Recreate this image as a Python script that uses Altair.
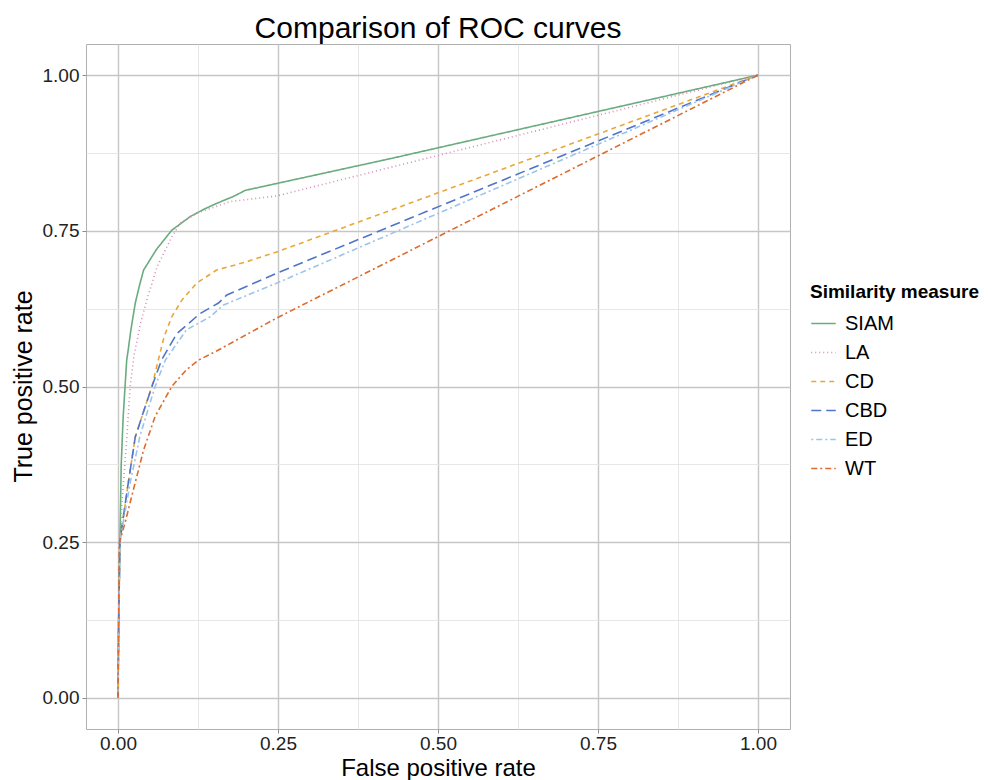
import altair as alt
import pandas as pd

measures = ["SIAM", "LA", "CD", "CBD", "ED", "WT"]
colors = ["#6aab7f", "#d48db5", "#e8a838", "#4f74c9", "#9cc4ea", "#dd6b2d"]
dashes = [[1, 0], [1, 3], [5, 4], [10, 5], [2, 3, 6, 3], [6, 3, 2, 3]]

siam_fpr = [0, 0.001, 0.003, 0.005, 0.008, 0.011, 0.0136, 0.016, 0.020, 0.027, 0.033, 0.040, 0.060, 0.084, 0.113, 0.135, 0.154, 0.180, 0.199, 0.426, 1.0]
siam_tpr = [0, 0.12, 0.25, 0.374, 0.45, 0.50, 0.5425, 0.559, 0.59, 0.634, 0.66, 0.687, 0.72, 0.751, 0.773, 0.785, 0.794, 0.805, 0.815, 0.866, 1.0]

la_fpr = [0, 0.001, 0.003, 0.006, 0.0125, 0.019, 0.025, 0.035, 0.045, 0.061, 0.084, 0.097, 0.123, 0.175, 0.248, 1.0]
la_tpr = [0, 0.12, 0.25, 0.313, 0.398, 0.50, 0.55, 0.60, 0.639, 0.692, 0.740, 0.762, 0.778, 0.797, 0.806, 1.0]

cd_fpr = [0, 0.001, 0.003, 0.007, 0.016, 0.027, 0.040, 0.053, 0.063, 0.072, 0.084, 0.100, 0.123, 0.154, 0.200, 0.248, 0.426, 1.0]
cd_tpr = [0, 0.12, 0.25, 0.281, 0.345, 0.419, 0.46, 0.50, 0.5425, 0.58, 0.612, 0.639, 0.666, 0.687, 0.700, 0.716, 0.783, 1.0]

cbd_fpr = [0, 0.001, 0.003, 0.007, 0.016, 0.027, 0.040, 0.053, 0.068, 0.092, 0.128, 0.157, 0.170, 0.248, 1.0]
cbd_tpr = [0, 0.12, 0.25, 0.281, 0.345, 0.419, 0.46, 0.50, 0.5425, 0.585, 0.617, 0.634, 0.647, 0.682, 1.0]

ed_fpr = [0, 0.001, 0.003, 0.008, 0.019, 0.034, 0.046, 0.058, 0.074, 0.107, 0.144, 0.165, 0.248, 1.0]
ed_tpr = [0, 0.12, 0.25, 0.281, 0.345, 0.419, 0.46, 0.50, 0.5425, 0.591, 0.612, 0.631, 0.666, 1.0]

wt_fpr = [0, 0.001, 0.002, 0.011, 0.024, 0.040, 0.058, 0.084, 0.107, 0.126, 0.154, 0.248, 1.0]
wt_tpr = [0, 0.12, 0.249, 0.281, 0.334, 0.398, 0.452, 0.50, 0.527, 0.5425, 0.557, 0.61, 1.0]

tick_values = [0, 0.125, 0.25, 0.375, 0.5, 0.625, 0.75, 0.875, 1.0]

series = {
    "SIAM": (siam_fpr, siam_tpr),
    "LA": (la_fpr, la_tpr),
    "CD": (cd_fpr, cd_tpr),
    "CBD": (cbd_fpr, cbd_tpr),
    "ED": (ed_fpr, ed_tpr),
    "WT": (wt_fpr, wt_tpr),
}
rows = []
for name, (xs, ys) in series.items():
    for i, (a, b) in enumerate(zip(xs, ys)):
        rows.append({"measure": name, "fpr": a, "tpr": b, "idx": i})
df = pd.DataFrame(rows)

FONT = "Liberation Sans"
major = "datum.value * 4 % 1 == 0"

def make_axis(title, title_size, **kw):
    return alt.Axis(
        title=title,
        values=tick_values,
        labelExpr="datum.value * 4 % 1 == 0 ? format(datum.value, '.2f') : ''",
        gridColor=alt.condition(major, alt.value("#c6c6c6"), alt.value("#e4e4e4")),
        gridWidth=alt.condition(major, alt.value(1.4), alt.value(0.9)),
        tickColor=alt.condition(major, alt.value("#8a8a8a"), alt.value("transparent")),
        tickSize=4,
        domain=False,
        labelFont=FONT,
        labelFontSize=19,
        labelColor="#222222",
        titleFont=FONT,
        titleFontSize=title_size,
        titleFontWeight="normal",
        titleColor="#000000",
        **kw,
    )

chart = (
    alt.Chart(df)
    .mark_line(strokeWidth=1.6, clip=True)
    .encode(
        x=alt.X("fpr:Q", scale=alt.Scale(domain=[-0.05, 1.05], nice=False, zero=False),
                axis=make_axis("False positive rate", 24, labelPadding=1, titleY=46,
                               titleBaseline="alphabetic")),
        y=alt.Y("tpr:Q", scale=alt.Scale(domain=[-0.05, 1.05], nice=False, zero=False),
                axis=make_axis("True positive rate", 25, labelPadding=3, titleX=-63, titleY=342,
                               titleAngle=270, titleAlign="center", titleBaseline="middle")),
        color=alt.Color("measure:N", scale=alt.Scale(domain=measures, range=colors),
                        sort=measures, title="Similarity measure"),
        strokeDash=alt.StrokeDash("measure:N", scale=alt.Scale(domain=measures, range=dashes),
                                  sort=measures, title="Similarity measure"),
        order=alt.Order("idx:Q"),
    )
    .properties(
        width=704,
        height=685,
        title=alt.TitleParams("Comparison of ROC curves", font=FONT, fontSize=30,
                              fontWeight="normal", color="#000000", anchor="middle",
                              frame="group", baseline="bottom", offset=-30),
        autosize=alt.AutoSizeParams(type="none"),
        padding={"left": 78, "top": 36, "right": 196, "bottom": 51},
    )
    .configure_view(stroke="#b0b0b0", strokeWidth=1)
    .configure_legend(
        orient="none",
        legendX=724,
        legendY=239,
        titleFont=FONT,
        titleFontSize=19,
        titleFontWeight="bold",
        titleColor="#000000",
        titlePadding=8,
        titleLimit=400,
        labelFont=FONT,
        labelFontSize=20,
        labelColor="#000000",
        symbolType="stroke",
        symbolSize=600,
        symbolStrokeWidth=1.6,
        rowPadding=5,
        labelOffset=8,
    )
)

chart.save("out.html", embed_options={"renderer": "svg", "actions": False})
